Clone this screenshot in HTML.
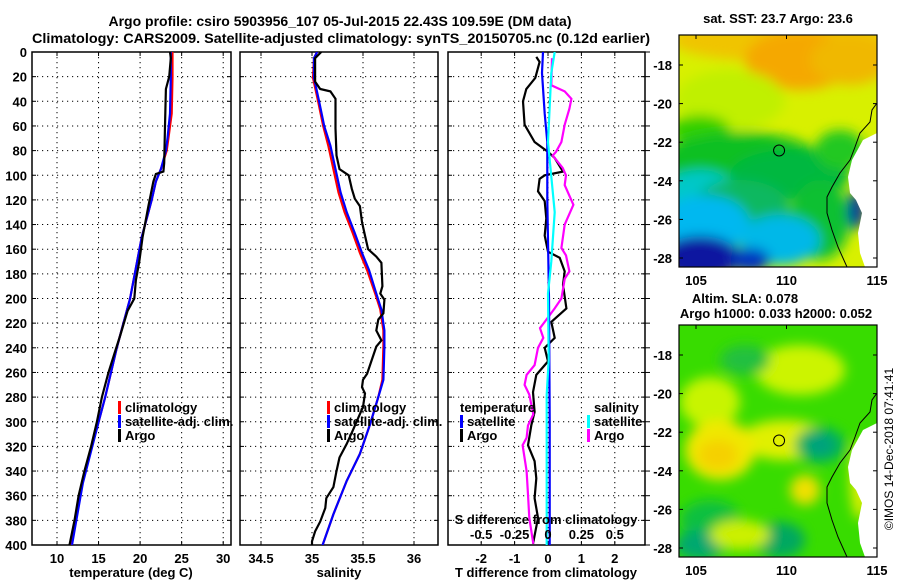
<!DOCTYPE html>
<html><head><meta charset="utf-8"><style>
body{margin:0;background:#fff;}
svg{display:block;font-family:"Liberation Sans",Arial,sans-serif;font-weight:bold;}
</style></head><body>
<svg id="fig" width="900" height="580" viewBox="0 0 900 580" xmlns="http://www.w3.org/2000/svg">
<defs>
<filter id="blr" x="-20%" y="-20%" width="140%" height="140%"><feGaussianBlur stdDeviation="6"/></filter>
<clipPath id="cm1"><rect x="679" y="35" width="198" height="232"/></clipPath>
<clipPath id="cm2"><rect x="679" y="325" width="198" height="232"/></clipPath>
</defs>
<text x="340" y="26" font-size="14" text-anchor="middle">Argo profile: csiro 5903956_107 05-Jul-2015 22.43S 109.59E (DM data)</text>
<text x="341" y="43" font-size="14" text-anchor="middle" textLength="618" lengthAdjust="spacingAndGlyphs">Climatology: CARS2009. Satellite-adjusted climatology: synTS_20150705.nc (0.12d earlier)</text>
<g id="maps"></g>
<g id="plots"></g>
</svg>
<script>
// ---- data ----
const climTDepth=[0,20,50,70,80,95,105,120,150,200,240,280,300,350,400];
const climT=[23.9,23.9,23.8,23.4,23.2,22.5,21.9,21.4,20.2,18.8,17.2,15.8,15.0,13.0,11.7];
const satT=[23.7,23.7,23.6,23.3,23.1,22.5,21.9,21.4,20.2,18.8,17.2,15.8,15.0,13.1,11.8];
const argoTDepth=[0,5,20,30,60,90,97,99,105,115,125,150,170,185,200,210,230,245,260,280,300,320,340,360,380,400];
const argoT=[23.6,23.7,23.5,23.1,23.0,22.9,22.8,21.9,21.6,21.3,21.0,20.3,19.9,19.5,19.3,18.5,17.6,16.9,16.2,15.4,14.8,14.1,13.3,12.6,12.1,11.5];

const climSDepth=[0,5,21,40,60,76,95,114,130,147,163,177,196,209,226,239,266,280,302,326,348,375,401];
const climS=[35.05,35.02,35.01,35.06,35.11,35.16,35.21,35.26,35.32,35.40,35.47,35.54,35.62,35.67,35.70,35.70,35.69,35.65,35.57,35.47,35.34,35.21,35.10];
const satS=[35.05,35.02,35.02,35.07,35.12,35.18,35.23,35.28,35.34,35.42,35.49,35.56,35.63,35.68,35.71,35.71,35.70,35.65,35.57,35.47,35.34,35.21,35.10];
const argoSDepth=[0,5,24,30,32,38,62,84,95,100,111,119,125,138,149,160,166,171,190,196,201,212,217,226,234,239,250,261,266,272,277,288,307,318,329,340,353,362,370,381,389,397,401];
const argoS=[35.09,35.03,35.03,35.08,35.18,35.23,35.23,35.24,35.27,35.36,35.39,35.42,35.47,35.49,35.52,35.55,35.63,35.68,35.69,35.67,35.71,35.70,35.65,35.63,35.68,35.63,35.585,35.54,35.50,35.49,35.52,35.50,35.40,35.34,35.27,35.24,35.21,35.14,35.13,35.08,35.03,35.00,35.00];

const satTdDepth=[0,17,50,73,120,200,300,400];
const satTd=[-0.15,-0.18,-0.10,-0.02,-0.02,0.03,0.05,0.05];
const argoTdDepth=[4,8,21,30,40,59,73,81,86,97,100,103,113,121,135,149,162,167,178,189,208,219,232,240,251,262,276,292,303,319,332,346,362,378,399];
const argoTd=[-0.35,-0.25,-0.38,-0.65,-0.75,-0.70,-0.40,0,0.2,0.45,-0.1,-0.25,-0.30,-0.1,-0.05,-0.1,0,0.35,0.5,0.45,0.55,0.1,0.2,-0.1,0,-0.35,-0.45,-0.40,-0.5,-0.6,-0.4,-0.35,-0.4,-0.3,-0.45];
const satSdDepth=[0,17,73,130,170,196,250,278,400];
const satSd=[0.05,0.025,0.0,0.05,0.025,0.0,0.005,-0.01,-0.01];
const argoSdDepth=[5,27,32,38,46,59,73,81,84,94,100,108,124,140,159,165,178,184,200,208,219,224,232,240,254,262,270,278,294,303,313,319,340,359,378,399];
const argoSd=[0.03,0.025,0.125,0.175,0.16,0.125,0.10,0.06,0.035,0.11,0.135,0.125,0.19,0.125,0.10,0.135,0.16,0.125,0.10,0.05,-0.025,-0.06,-0.035,-0.075,-0.10,-0.16,-0.175,-0.14,-0.11,-0.15,-0.16,-0.19,-0.16,-0.15,-0.14,-0.11];

const depthTicks=[0,20,40,60,80,100,120,140,160,180,200,220,240,260,280,300,320,340,360,380,400];
const tTicks=[10,15,20,25,30];
const sTicks=[34.5,35,35.5,36];
const tdTicks=[-2,-1,0,1,2];
const sdTicks=[-0.5,-0.25,0,0.25,0.5];
const latTicks=[-18,-20,-22,-24,-26,-28];
const lonTicks=[105,110,115];

// ---- scales ----
const Y0=52, Y1=545;
const yD=d=>Y0+d*(Y1-Y0)/400;
const xT=t=>57+(t-10)*8.31;
const xS=s=>312+(s-35)*102;
const xTd=t=>548+t*33.4;
const xSd=s=>548+s*133.6;
const mapLon=l=>696+(l-105)*18.1;
const mapLat=(l,off)=>off+65+(-18-l)*19.3;

const NS='http://www.w3.org/2000/svg';
function mk(tag,attrs,parent){const e=document.createElementNS(NS,tag);for(const k in attrs)e.setAttribute(k,attrs[k]);parent.appendChild(e);return e;}
function txt(parent,x,y,s,size,anchor){const e=mk('text',{x:x,y:y,'font-size':size,'text-anchor':anchor||'middle'},parent);e.textContent=s;return e;}
const plots=document.getElementById('plots');
const maps=document.getElementById('maps');

function panel(name,x0,x1,xs,ticks,labels){
  const g=mk('g',{},plots);
  
  
  depthTicks.forEach(d=>{ if(d>0&&d<400){const l=mk('line',{x1:x0,x2:x1,y1:yD(d),y2:yD(d),stroke:'#000','stroke-width':1,'stroke-dasharray':'1.2,3.8'},g);
    
    }
    mk('line',{x1:x0,x2:x0+4,y1:yD(d),y2:yD(d),stroke:'#000'},g);
    mk('line',{x1:x1,x2:x1-4,y1:yD(d),y2:yD(d),stroke:'#000'},g);});
  ticks.forEach(t=>{const x=xs(t);
    const l=mk('line',{x1:x,x2:x,y1:Y0,y2:Y1,stroke:'#000','stroke-width':1,'stroke-dasharray':'1.2,3.8'},g);
    
    
    mk('line',{x1:x,x2:x,y1:Y1,y2:Y1-4,stroke:'#000'},g);
    mk('line',{x1:x,x2:x,y1:Y0,y2:Y0+4,stroke:'#000'},g);
    if(labels){const tl=txt(g,x,563,String(t),13);
      
      }
  });
  const b=mk('rect',{x:x0,y:Y0,width:x1-x0,height:Y1-Y0,fill:'none',stroke:'#000','stroke-width':1.5},g);
  
  
  const cp=mk('clipPath',{id:'cp'+name},g);mk('rect',{x:x0,y:Y0,width:x1-x0,height:Y1-Y0},cp);
  return g;
}
function series(g,name,depths,vals,xs,color,clip){
  const pts=depths.map((d,i)=>xs(vals[i]).toFixed(1)+','+yD(d).toFixed(1)).join(' ');
  const p=mk('polyline',{points:pts,fill:'none',stroke:color,'stroke-width':2.2,'clip-path':'url(#cp'+clip+')'},g);
  
  
}
function legendItem(g,name,x,y,color,label){
  if(color){const r=mk('rect',{x:x,y:y-11,width:3,height:13,fill:color},g);
    
    }
  const t=txt(g,x+7,y,label,13,'start');
  
  
}

// panel 1: temperature
const g1=panel('temperature-panel',32,231,xT,tTicks,true);
depthTicks.forEach(d=>{const t=txt(g1,27,yD(d)+5,String(d),13,'end');
  
  });
series(g1,'temp-climatology-line',climTDepth,climT,xT,'#ff0000','temperature-panel');
series(g1,'temp-satellite-line',climTDepth,satT,xT,'#0000ff','temperature-panel');
series(g1,'temp-argo-line',argoTDepth,argoT,xT,'#000000','temperature-panel');
const xl1=txt(g1,131,577,'temperature (deg C)',13);


legendItem(g1,'legend-climatology',118,412,'#ff0000','climatology');
legendItem(g1,'legend-satellite-adj',118,426,'#0000ff','satellite-adj. clim.');
legendItem(g1,'legend-argo',118,440,'#000000','Argo');

// panel 2: salinity
const g2=panel('salinity-panel',240,438,xS,sTicks,true);
series(g2,'sal-climatology-line',climSDepth,climS,xS,'#ff0000','salinity-panel');
series(g2,'sal-satellite-line',climSDepth,satS,xS,'#0000ff','salinity-panel');
series(g2,'sal-argo-line',argoSDepth,argoS,xS,'#000000','salinity-panel');
const xl2=txt(g2,339,577,'salinity',13);


legendItem(g2,'legend-climatology-s',327,412,'#ff0000','climatology');
legendItem(g2,'legend-satellite-adj-s',327,426,'#0000ff','satellite-adj. clim.');
legendItem(g2,'legend-argo-s',327,440,'#000000','Argo');

// panel 3: differences
const g3=panel('difference-panel',448,645,xTd,tdTicks,true);
depthTicks.forEach(d=>mk('line',{x1:645,x2:650,y1:yD(d),y2:yD(d),stroke:'#000'},g3));
series(g3,'t-diff-argo-line',argoTdDepth,argoTd,xTd,'#000000','difference-panel');
series(g3,'s-diff-argo-line',argoSdDepth,argoSd,xSd,'#ff00ff','difference-panel');
series(g3,'t-diff-satellite-line',satTdDepth,satTd,xTd,'#0000ff','difference-panel');
series(g3,'s-diff-satellite-line',satSdDepth,satSd,xSd,'#00ffff','difference-panel');
const xl3=txt(g3,546,577,'T difference from climatology',13);


const sl=txt(g3,546,524,'S difference from climatology',13);


sdTicks.forEach(s=>{const t=txt(g3,xSd(s),539,String(s),13);
  
  });
legendItem(g3,'legend-temperature-heading',453,412,null,'temperature');
legendItem(g3,'legend-t-satellite',460,426,'#0000ff','satellite');
legendItem(g3,'legend-t-argo',460,440,'#000000','Argo');
legendItem(g3,'legend-salinity-heading',587,412,null,'salinity');
legendItem(g3,'legend-s-satellite',587,426,'#00ffff','satellite');
legendItem(g3,'legend-s-argo',587,440,'#ff00ff','Argo');

// ---- maps ----
const land=(o)=>`M877,${133+o} L863,${140+o} L852,${160+o} L848,${177+o} L850,${193+o} L856,${200+o} L862,${213+o} L858,${233+o} L860,${253+o} L865,${267+o} L877,${267+o} Z`;
const coast=(o)=>`M877,${103+o} L872,${110+o} L870,${122+o} L860,${133+o} L855,${147+o} L850,${160+o} L840,${173+o} L832,${187+o} L827,${197+o} L827,${213+o} L832,${230+o} L838,${247+o} L847,${267+o}`;
function mapBox(name,off,clip,blobs,bg){
  const g=mk('g',{},maps);
  
  
  const inner=mk('g',{'clip-path':'url(#'+clip+')'},g);
  mk('rect',{x:679,y:35+off,width:198,height:232,fill:bg},inner);
  const bl=mk('g',{filter:'url(#blr)'},inner);
  blobs.forEach(b=>mk('ellipse',{cx:b[0],cy:b[1]+off,rx:b[2],ry:b[3],fill:b[4]},bl));
  const ld=mk('path',{d:land(off),fill:'#fff'},inner);
  
  
  const cl=mk('path',{d:coast(off),fill:'none',stroke:'#000','stroke-width':1},inner);
  
  
  const mkr=mk('circle',{cx:mapLon(109.59),cy:mapLat(-22.43,off),r:5.5,fill:'none',stroke:'#000','stroke-width':1},g);
  
  
  mk('rect',{x:679,y:35+off,width:198,height:232,fill:'none',stroke:'#000','stroke-width':1.2},g);
  latTicks.forEach(l=>{const y=mapLat(l,off);mk('line',{x1:679,x2:683,y1:y,y2:y,stroke:'#000'},g);mk('line',{x1:877,x2:873,y1:y,y2:y,stroke:'#000'},g);
    const t=txt(g,672,y+5,String(l),13,'end');
    
    });
  lonTicks.forEach(l=>{const x=mapLon(l);mk('line',{x1:x,x2:x,y1:35+off,y2:39+off,stroke:'#000'},g);
    const t=txt(g,x,285+off,String(l),13);
    
    });
  return g;
}
const sstBlobs=[[780,40,110,22,'#f0c400'],[800,60,55,30,'#f5a800'],[850,60,40,25,'#f0b800'],[730,100,55,30,'#c0f000'],[700,130,30,15,'#30d000'],
 [740,160,80,28,'#10c020'],[790,175,60,25,'#00b840'],[840,150,25,20,'#20c820'],[700,195,40,25,'#00c8c8'],[740,210,50,30,'#10b860'],[820,220,30,40,'#10c030'],
 [705,225,45,30,'#00b8f0'],[780,240,40,25,'#00b8e8'],[700,258,40,22,'#0818a0'],[750,260,20,12,'#0030c0'],[856,210,8,20,'#0020a0']];
const m1=mapBox('sst-map',0,'cm1',sstBlobs,'#d8f000');
const mt1=txt(m1,778,23,'sat. SST: 23.7 Argo: 23.6',13);


const slaBlobs=[[800,80,45,25,'#ccf400'],[710,112,30,25,'#c8f400'],[785,150,45,20,'#e0f000'],[720,160,35,30,'#f0e800'],[718,165,20,15,'#f5d000'],
 [820,155,25,18,'#00b060'],[820,155,12,10,'#00a080'],[710,230,30,20,'#10c040'],[700,255,25,15,'#00a870'],[780,250,25,18,'#00a860'],[740,245,30,15,'#ccf000'],
 [805,200,15,15,'#f0e000'],[745,70,25,15,'#20c040'],[860,190,10,40,'#ddf000']];
const m2=mapBox('sla-map',290,'cm2',slaBlobs,'#38dc00');
const mt2=txt(m2,745,303,'Altim. SLA: 0.078',13);


const mt3=txt(m2,776,318,'Argo h1000: 0.033 h2000: 0.052',13);


const cr=txt(m2,0,0,'©IMOS 14-Dec-2018 07:41:41',12);
cr.setAttribute('transform','translate(893,449) rotate(-90)');
cr.setAttribute('font-weight','normal');


</script>
</body></html>
